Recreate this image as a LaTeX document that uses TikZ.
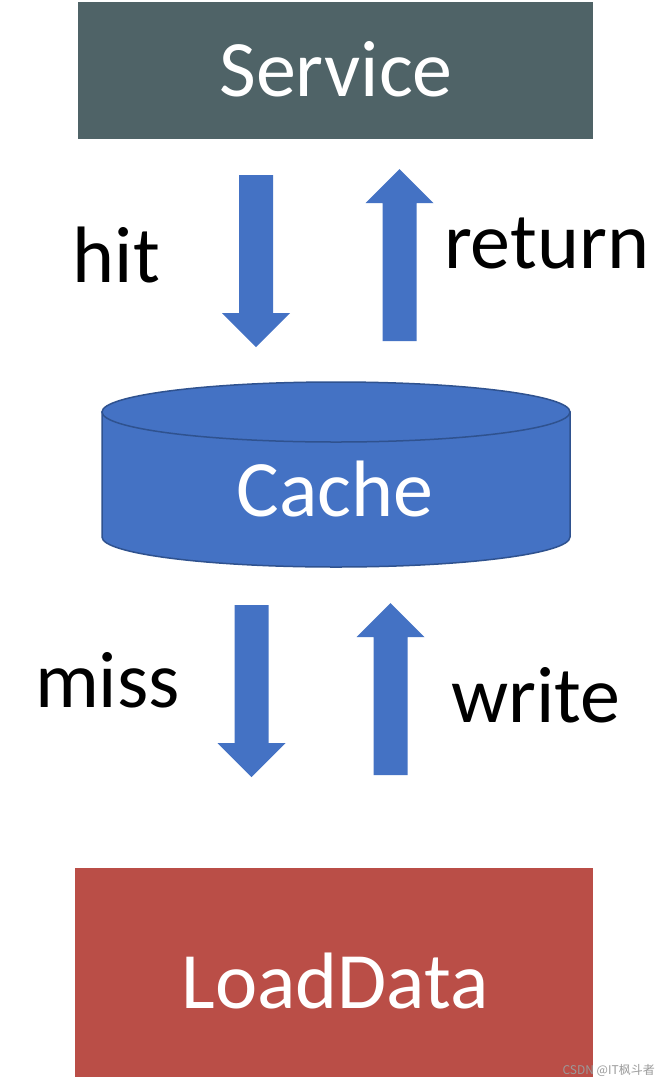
\documentclass[tikz,border=0pt]{standalone}
\usepackage{fontspec}
\setmainfont{Carlito}
\newfontfamily\cjk{Noto Sans CJK SC}
\usetikzlibrary{calc}
\definecolor{serviceslate}{HTML}{4F6367}
\definecolor{cacheblue}{HTML}{4472C4}
\definecolor{cacheedge}{HTML}{2F528F}
\definecolor{loadred}{HTML}{BA4E47}
\definecolor{wmgray}{HTML}{9A9A9A}
\tikzset{
  bigtext/.style={font=\fontsize{80}{88}\selectfont, inner sep=0pt},
  boxtext/.style={bigtext, text=white},
  labeltext/.style={bigtext, text=black, anchor=base},
  flatbox/.style={rectangle, draw=none, inner sep=0pt},
  blockarrow/.style={fill=cacheblue, to path={
    let \p1=(\tikztostart), \p2=(\tikztotarget),
        \n1={ifthenelse(\y2<\y1,-1,1)} in
    (\x1-17pt,\y1) -- (\x1+17pt,\y1) -- (\x1+17pt,\y2-\n1*34pt)
    -- (\x1+34pt,\y2-\n1*34pt) -- (\x2,\y2) -- (\x1-34pt,\y2-\n1*34pt)
    -- (\x1-17pt,\y2-\n1*34pt) -- cycle}}
}
\begin{document}
\begin{tikzpicture}[x=1pt,y=-1pt]
\useasboundingbox[fill=white] (0,0) rectangle (661,1085);

% Service box
\node (service) [flatbox, fill=serviceslate, minimum width=515, minimum height=137] at (335.5,70.5) {};
\node (servicetext) [boxtext] at (336,69) {Service};

% Cache cylinder
\fill[cacheblue, draw=cacheedge, line width=1.5pt]
  (102,412) -- (102,537) arc[start angle=180, end angle=0, x radius=234, y radius=30] -- (570,412) -- cycle;
\draw[fill=cacheblue, draw=cacheedge, line width=1.5pt] (336,412) ellipse [x radius=234, y radius=30];
\node (cache) [boxtext] at (335,489) {Cache};

% LoadData box
\node (load) [flatbox, fill=loadred, minimum width=518, minimum height=209] at (334,972.5) {};
\node (loadtext) [boxtext] at (335,981) {LoadData};

% arrow end points
\coordinate (hitA) at (256,175);
\coordinate (hitB) at (256,347);
\coordinate (retA) at (399.5,341);
\coordinate (retB) at (399.5,169);
\coordinate (missA) at (251.5,605);
\coordinate (missB) at (251.5,777);
\coordinate (writeA) at (390.5,775);
\coordinate (writeB) at (390.5,603);

\path[blockarrow] (hitA) to (hitB);
\path[blockarrow] (retA) to (retB);
\path[blockarrow] (missA) to (missB);
\path[blockarrow] (writeA) to (writeB);

% labels
\node (hitlbl) [labeltext] at (116.5,282) {hit};
\node (retlbl) [labeltext] at (546.5,268) {return};
\node (misslbl) [labeltext] at (107.5,707) {miss};
\node (writelbl) [labeltext] at (536,722) {write};

% watermark
\node (wm) [font=\cjk\fontsize{12}{14}\selectfont, text=wmgray, anchor=base east, inner sep=0pt] at (655,1074) {CSDN @IT枫斗者};
\end{tikzpicture}
\end{document}
